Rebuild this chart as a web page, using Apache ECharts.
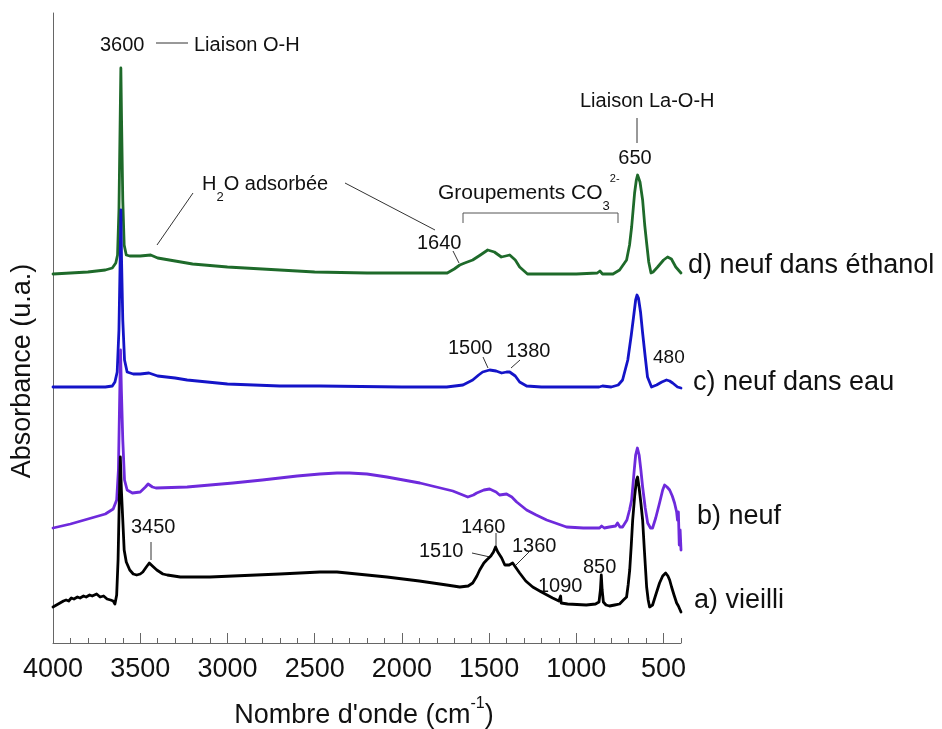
<!DOCTYPE html>
<html>
<head>
<meta charset="utf-8">
<script src="https://cdn.jsdelivr.net/npm/echarts@6/dist/echarts.min.js"></script>
<style>html,body{margin:0;padding:0;background:#fff}#c{width:942px;height:729px}</style>
</head>
<body>
<div id="c"></div>
<script>
// ---- data (wavenumber cm-1, absorbance a.u. offset as plotted) ----
const wnD = [4000,3900,3800,3700,3660,3640,3630,3622,3615,3611,3607,3600,3592,3580,3560,3500,3440,3400,3300,3200,3000,2800,2500,2200,1800,1740,1700,1668,1640,1594,1550,1508,1470,1430,1405,1382,1350,1325,1280,1000,880,865,850,790,752,712,695,683,666,656,649,635,620,608,597,585,572,560,534,500,477,455,430,400];
const absD = [369,370,371,373,375,380,388,433,523,575,523,443,398,388,387,387,388,385,382,379,376,374,371,370,370,370,374,378,380,383,388,393,391,386,387,388,383,376,369,369,370,372,369,369,373,383,398,416,450,463,468,461,443,418,400,381,370,371,376,383,386,384,376,370];

const wnC = [4000,3800,3700,3660,3645,3632,3622,3615,3611,3607,3600,3590,3575,3540,3500,3450,3400,3300,3231,3000,2700,2470,2000,1743,1650,1594,1560,1537,1497,1460,1428,1400,1382,1350,1325,1285,1200,870,850,800,760,735,705,685,672,660,652,644,632,620,605,592,569,540,510,483,465,448,420,400];
const absC = [256,256,256,257,261,271,313,383,433,383,323,283,271,269,269,270,267,265,263,259,257,257,256,256,258,263,268,271,273,272,270,271,271,267,261,257,256,256,257,256,258,263,283,308,326,343,348,345,331,310,286,266,256,258,261,263,262,260,256,255];

const wnB = [4000,3900,3800,3700,3655,3635,3625,3618,3613,3608,3600,3590,3575,3545,3500,3470,3455,3430,3410,3231,2968,2800,2600,2470,2372,2300,2200,2086,1897,1708,1622,1590,1571,1530,1497,1460,1440,1400,1370,1342,1285,1230,1170,1056,960,867,855,840,810,775,764,750,735,710,695,683,668,660,650,640,630,620,605,591,575,563,545,523,505,494,480,465,450,437,425,420,415,410,405,400];
const absB = [115,119,124,129,134,143,173,243,293,253,203,163,153,150,151,156,159,156,155,156,160,163,167,169,170,170,169,166,160,152,146,148,150,153,154,151,148,149,146,141,133,128,123,116,115,115,117,115,116,117,120,116,116,123,133,143,173,188,195,188,173,156,135,120,115,115,125,140,153,158,156,153,147,140,131,123,131,98,113,93];

const wnA = [4000,3980,3960,3940,3925,3910,3895,3880,3860,3845,3825,3810,3790,3775,3750,3730,3710,3690,3670,3655,3645,3635,3627,3620,3614,3608,3600,3592,3580,3560,3540,3520,3500,3485,3465,3448,3430,3405,3370,3345,3270,3100,2968,2700,2470,2372,2200,2086,1900,1743,1668,1620,1594,1570,1554,1530,1514,1490,1475,1463,1450,1428,1410,1400,1385,1365,1345,1325,1290,1250,1200,1136,1100,1093,1090,1087,1050,943,890,870,862,857,852,845,830,810,780,752,730,712,703,694,685,677,665,655,649,640,630,620,610,603,597,588,580,570,563,545,523,505,488,475,465,454,440,425,415,408,400];
const absA = [36,38,40,42,43,42,45,44,46,45,47,46,48,47,49,46,47,44,43,42,39,48,83,143,186,153,123,93,81,73,69,68,69,71,76,80,77,73,69,68,66,66,67,69,71,71,68,66,62,58,56,57,60,67,73,80,83,87,91,96,91,85,78,76,78,80,75,70,62,56,51,45,42,41,47,40,39,38,39,41,53,68,53,41,38,37,38,39,43,46,58,73,98,123,148,163,166,155,140,123,93,73,56,43,36,36,38,48,60,67,70,67,63,56,48,40,37,36,31];

const tickValues = [500,1000,1500,2000,2500,3000,3500,4000];
const tickLabels = ['500','1000','1500','2000','2500','3000','3500','4000'];
const minorTickValues = [];
for (let v = 400; v <= 4000; v += 100) minorTickValues.push(v);

const seriesNames = ['d) neuf dans éthanol','c) neuf dans eau','b) neuf','a) vieilli'];
const seriesColors = ['#1e6a2a','#1414c8','#6e2adc','#000000'];

function pairs(x, y) { return x.map((v, i) => [v, y[i]]); }
const allData = [pairs(wnD, absD), pairs(wnC, absC), pairs(wnB, absB), pairs(wnA, absA)];

const FONT = '"Liberation Sans", Arial, sans-serif';
const chart = echarts.init(document.getElementById('c'), null, {renderer: 'canvas'});

function txt(text, x, y, size, align) {
  return {type: 'text', x: x, y: y, silent: true,
    style: {text: text, fill: '#111', font: size + 'px ' + FONT, align: align || 'left', verticalAlign: 'middle'}};
}
function seg(x1, y1, x2, y2, color) {
  return {type: 'line', silent: true, shape: {x1: x1, y1: y1, x2: x2, y2: y2},
    style: {stroke: color || '#333', lineWidth: 1}};
}

const graphics = [
  // axis titles
  {type: 'text', x: 364, y: 716, silent: true,
    style: {text: "Nombre d'onde (cm{sup|-1})", fill: '#111', fontFamily: FONT, fontSize: 27, lineHeight: 40,
      align: 'center', verticalAlign: 'middle',
      rich: {sup: {fontFamily: FONT, fontSize: 16, lineHeight: 20, verticalAlign: 'top', fill: '#111'}}}},
  {type: 'text', x: 23, y: 371, rotation: Math.PI / 2, silent: true,
    style: {text: 'Absorbance (u.a.)', fill: '#111', font: '27px ' + FONT, align: 'center', verticalAlign: 'middle'}},
  // series labels
  txt(seriesNames[0], 688, 266, 27),
  txt(seriesNames[1], 693, 383, 27),
  txt(seriesNames[2], 697, 517, 27),
  txt(seriesNames[3], 694, 601, 27),
  // annotations
  txt('3600', 100, 45, 20),
  txt('Liaison O-H', 194, 45, 20),
  seg(156, 43, 188, 43),
  {type: 'text', x: 202, y: 184, silent: true,
    style: {text: 'H{sub|2}O adsorbée', fill: '#111', fontFamily: FONT, fontSize: 20, lineHeight: 40,
      align: 'left', verticalAlign: 'middle',
      rich: {sub: {fontFamily: FONT, fontSize: 13, lineHeight: 14, verticalAlign: 'bottom', fill: '#111'}}}},
  seg(193, 193, 157, 245),
  seg(345, 183, 435, 230),
  txt('1640', 417, 243, 20),
  seg(453, 251, 459, 263),
  {type: 'text', x: 438, y: 193, silent: true,
    style: {text: 'Groupements CO{sub|3}{sup|2-}', fill: '#111', fontFamily: FONT, fontSize: 21, lineHeight: 40,
      align: 'left', verticalAlign: 'middle',
      rich: {sub: {fontFamily: FONT, fontSize: 13, lineHeight: 15, verticalAlign: 'bottom', fill: '#111'},
             sup: {fontFamily: FONT, fontSize: 11, lineHeight: 27, verticalAlign: 'top', fill: '#111'}}}},
  {type: 'polyline', silent: true, shape: {points: [[463, 223], [463, 213], [618, 213], [618, 223]]},
    style: {stroke: '#555', lineWidth: 1, fill: null}},
  txt('Liaison La-O-H', 580, 101, 20),
  seg(637, 118, 637, 143),
  txt('650', 635, 158, 20, 'center'),
  txt('1500', 448, 348, 20),
  seg(483, 357, 488, 368),
  txt('1380', 506, 351, 20),
  seg(520, 360, 511, 368),
  txt('480', 653, 358, 19),
  txt('3450', 131, 527, 20),
  seg(151, 542, 151, 560),
  txt('1460', 461, 527, 20),
  seg(496, 533, 496, 547),
  txt('1510', 419, 551, 20),
  seg(472, 553, 490, 557),
  txt('1360', 512, 546, 20),
  seg(529, 552, 516, 565),
  txt('1090', 538, 586, 20),
  txt('850', 583, 567, 20)
];

const option = {
  animation: false,
  backgroundColor: '#ffffff',
  grid: {left: 53, right: 261, top: 13, bottom: 86, containLabel: false, outerBoundsMode: 'none'},
  xAxis: [
    {type: 'value', inverse: true, min: 400, max: 4000, position: 'bottom', offset: 0,
      axisLine: {show: true, onZero: false, lineStyle: {color: '#666', width: 1}},
      axisTick: {show: true, inside: true, length: 10, customValues: tickValues, lineStyle: {color: '#666', width: 1}},
      axisLabel: {show: true, customValues: tickValues, margin: 13, fontSize: 27, fontFamily: FONT, color: '#111',
        formatter: v => tickLabels[tickValues.indexOf(v)]},
      splitLine: {show: false}},
    {type: 'value', inverse: true, min: 400, max: 4000, position: 'bottom', offset: 0,
      axisLine: {show: false},
      axisTick: {show: true, inside: true, length: 5, customValues: minorTickValues, lineStyle: {color: '#666', width: 1}},
      axisLabel: {show: false},
      splitLine: {show: false}}
  ],
  yAxis: {type: 'value', min: 0, max: 630, position: 'left',
    axisLine: {show: true, onZero: false, lineStyle: {color: '#666', width: 1}},
    axisTick: {show: false}, axisLabel: {show: false}, splitLine: {show: false}},
  series: allData.map((d, i) => ({
    name: seriesNames[i], type: 'line', xAxisIndex: 0, data: d, showSymbol: false, symbol: 'none',
    smooth: false, lineStyle: {color: seriesColors[i], width: 2.8, join: 'round', cap: 'round'},
    emphasis: {disabled: true}
  })),
  graphic: graphics
};
chart.setOption(option);
</script>
</body>
</html>
